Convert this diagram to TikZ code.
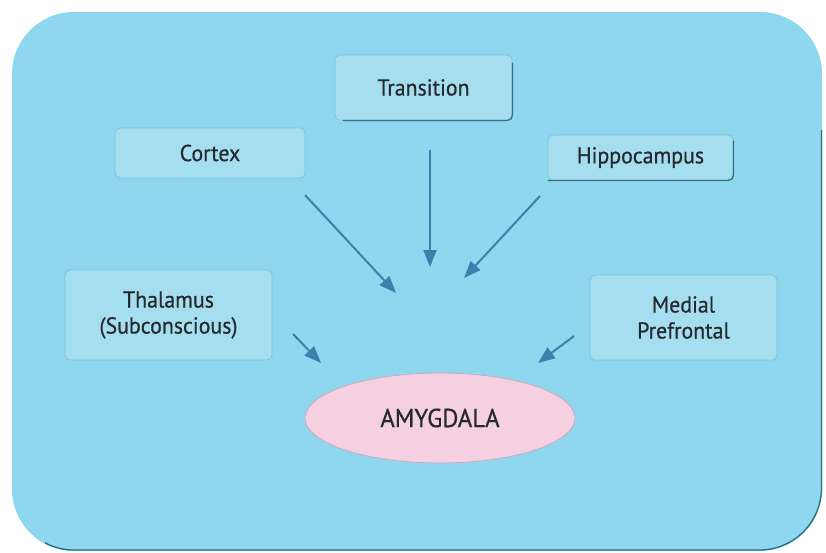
\documentclass[tikz,border=0pt]{standalone}
\usepackage{fontspec}
\setmainfont{PT Sans}[FakeStretch=0.95,FakeBold=0.6]
\usetikzlibrary{arrows.meta,shapes.geometric,calc}
\definecolor{bgblue}{RGB}{143,215,238}
\definecolor{boxblue}{RGB}{165,222,239}
\definecolor{boxedge}{RGB}{122,196,222}
\definecolor{shadowc}{RGB}{60,110,140}
\definecolor{arrowc}{RGB}{60,128,172}
\definecolor{pinkc}{RGB}{244,208,224}
\definecolor{pinkedge}{RGB}{205,170,190}
\definecolor{txt}{RGB}{38,42,46}
\definecolor{rimc}{RGB}{40,110,130}
\tikzset{
  region/.style={draw=boxedge, line width=0.8pt, fill=boxblue, rounded corners=5pt,
    text=txt, font=\fontsize{23}{26}\selectfont, align=center, inner sep=0pt},
  flow/.style={draw=arrowc, line width=2pt, -{Triangle[length=17pt,width=13pt]}},
}
\begin{document}
\begin{tikzpicture}[x=1pt,y=-1pt]
\useasboundingbox (0,0) rectangle (826,552);
\fill[white] (0,0) rectangle (826,552);
% background panel
\fill[bgblue, rounded corners=62pt] (12,12) rectangle (822,551);
\begin{scope}
  \clip (45,500) rectangle (830,560) (790,130) rectangle (830,560);
  \draw[rimc, line width=1.3pt, rounded corners=62pt] (12,12) rectangle (821.5,550);
\end{scope}

% boxes
\node[region, minimum width=177pt, minimum height=65pt] (trans) at (423.5,87.5) {Transition};
\node[region, minimum width=190pt, minimum height=50pt] (cortex) at (210,153) {Cortex};
\node[region, minimum width=185pt, minimum height=45pt] (hippo) at (640.5,157.5) {Hippocampus};
\node[region, minimum width=207pt, minimum height=90pt] (thal) at (168.5,315) {Thalamus\\(Subconscious)};
\node[region, minimum width=187pt, minimum height=85pt] (medial) at (683.5,317.5) {Medial\\Prefrontal};
% shadow edges
\draw[shadowc, line width=1.3pt, rounded corners=5pt] ($(trans.north east)+(0,8)$) |- ($(trans.south west)+(8,0)$);
\draw[shadowc, line width=1.3pt, rounded corners=5pt] ($(hippo.north east)+(0,6)$) |- (hippo.south west);

\node[ellipse, draw=pinkedge, line width=0.8pt, fill=pinkc, minimum width=270pt, minimum height=90pt,
  text=txt, font=\fontsize{26}{28}\selectfont] (amyg) at (440,418) {AMYGDALA};

% arrows
\coordinate (c1) at (305,195); \coordinate (c2) at (396,293);
\coordinate (t1) at (430,150); \coordinate (t2) at (430,267);
\coordinate (h1) at (540,196); \coordinate (h2) at (464,278);
\coordinate (l1) at (293,334); \coordinate (l2) at (321,363);
\coordinate (m1) at (574,336); \coordinate (m2) at (538,363);
\draw[flow] (c1) -- (c2);
\draw[flow] (t1) -- (t2);
\draw[flow] (h1) -- (h2);
\draw[flow] (l1) -- (l2);
\draw[flow] (m1) -- (m2);
\end{tikzpicture}
\end{document}
